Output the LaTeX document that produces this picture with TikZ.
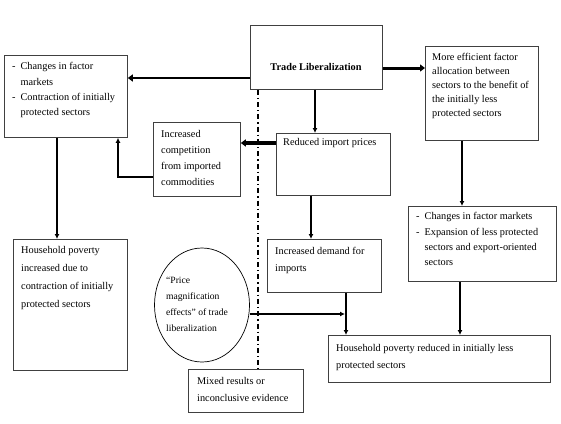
\documentclass[tikz,border=0pt]{standalone}
\usepackage{fontspec}
\setmainfont{Liberation Serif}
\usetikzlibrary{arrows.meta,shapes.geometric}
\begin{document}
\begin{tikzpicture}[x=1pt,y=-1pt,
  box/.style={draw=black!75, line width=0.8pt, anchor=north west, inner sep=0pt},
  txt/.style={anchor=north west, inner sep=0pt, align=left, font=\fontsize{10.3}{#1}\selectfont},
  txt/.default=15,
  varr/.style={-{Latex[length=5pt,width=5pt]}, line width=1.8pt},
  harr/.style={-{Triangle[length=5pt,width=7pt]}, line width=#1},
  dashdotline/.style={line width=1.3pt, dash pattern=on 5pt off 3pt on 1.3pt off 3pt},
]
\path[use as bounding box] (0,0) rectangle (561,423);

% boxes
\node[box, minimum width=123, minimum height=82] (A) at (4,55) {};
\node[box, minimum width=132, minimum height=64] (T) at (250,25) {};
\node[box, minimum width=113, minimum height=94] (C) at (425,46) {};
\node[box, minimum width=87, minimum height=74] (B) at (153,122) {};
\node[box, minimum width=114, minimum height=62] (R) at (276,133) {};
\node[box, minimum width=114, minimum height=131] (G) at (13,239) {};
\node[box, minimum width=114, minimum height=53] (D) at (267,239) {};
\node[box, minimum width=148, minimum height=75] (E) at (408,206) {};
\node[box, minimum width=222, minimum height=47] (H) at (328,335) {};
\node[box, minimum width=115, minimum height=43] (M) at (188,369) {};
\node[ellipse, draw=black, line width=0.7pt, minimum width=95, minimum height=114, inner sep=0pt] (P) at (202,305) {};

% texts
\node[txt=15.3] (At) at (12,59) {\begin{tabular}{@{}l@{\hspace{5pt}}l@{}}-&Changes in factor\\ &markets\\ -&Contraction of initially\\ &protected sectors\end{tabular}};
\node[font=\fontsize{10.3}{12}\selectfont\bfseries] (Tt) at (316,67) {Trade Liberalization};
\node[txt=14] (Ct) at (432,53) {More efficient factor\\allocation between\\sectors to the benefit of\\the initially less\\protected sectors};
\node[txt=16] (Bt) at (161,130) {Increased\\competition\\from imported\\commodities};
\node[txt] (Rt) at (283,138) {Reduced import prices};
\node[txt=18] (Gt) at (21,246) {Household poverty\\increased due to\\contraction of initially\\protected sectors};
\node[txt=16, font=\fontsize{9.6}{16}\selectfont] (Pt) at (166,277) {``Price\\magnification\\effects'' of trade\\liberalization};
\node[txt=17] (Dt) at (275,247) {Increased demand for\\imports};
\node[txt=15.3] (Et) at (416,209) {\begin{tabular}{@{}l@{\hspace{5pt}}l@{}}-&Changes in factor markets\\ -&Expansion of less protected\\ &sectors and export-oriented\\ &sectors\end{tabular}};
\node[txt=17.5] (Ht) at (336,344) {Household poverty reduced in initially less\\protected sectors};
\node[txt=17] (Mt) at (197,377) {Mixed results or\\inconclusive evidence};

% connectors
\coordinate (J) at (345,314);
\draw[dashdotline] (T.south -| 258,0) -- (M.north -| 258,0);
\draw[harr=2.6pt] (T.west |- 0,78) -- (A.east |- 0,78);
\draw[harr=3pt] (T.east |- 0,68) -- (C.west |- 0,68);
\draw[varr] (T.south -| 315,0) -- (R.north -| 315,0);
\draw[harr=3.4pt] (R.west |- 0,143) -- (B.east |- 0,143);
\draw[varr] (B.west |- 0,177) -| (A.south -| 118,0);
\draw[varr] (A.south -| 57,0) -- (G.north -| 57,0);
\draw[varr] (C.south -| 462,0) -- (E.north -| 462,0);
\draw[varr] (R.south -| 311,0) -- (D.north -| 311,0);
\draw[varr] (D.south -| 346,0) -- (H.north -| 346,0);
\draw[varr] (E.south -| 460,0) -- (H.north -| 460,0);
\draw[varr] (P.east |- 0,314) -- (J);
\end{tikzpicture}
\end{document}
